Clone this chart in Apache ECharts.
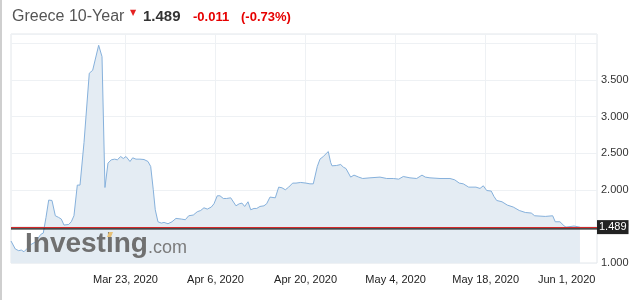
<!DOCTYPE html>
<html>
<head>
<meta charset="utf-8">
<script src="https://cdn.jsdelivr.net/npm/echarts@6/dist/echarts.min.js"></script>
<style>
html,body{margin:0;padding:0;background:#fff;}
#c{width:639px;height:300px;}
</style>
</head>
<body>
<div id="c"></div>
<script>
// Days relative to Mar 23, 2020
const days = [-17.80,-17.65,-17.13,-16.60,-16.20,-15.78,-15.27,-14.85,-14.54,-14.12,-13.60,-13.18,-12.78,-12.36,-11.94,-11.43,-10.91,-10.39,-9.98,-9.56,-9.25,-8.83,-8.43,-8.01,-7.49,-7.07,-6.45,-5.63,-5.10,-4.17,-3.65,-3.19,-2.72,-2.21,-1.68,-1.27,-0.75,-0.34,0.08,0.70,1.12,1.63,2.25,2.88,3.50,3.92,4.32,4.63,5.05,5.57,5.99,6.61,7.23,7.85,8.68,9.30,9.83,10.54,11.16,11.69,12.20,12.72,13.34,13.76,14.27,14.69,15.21,15.73,16.36,16.67,17.18,17.69,18.11,18.53,19.05,19.47,19.98,20.40,20.91,21.53,21.95,22.47,23.29,23.82,24.33,24.85,25.37,25.99,26.51,26.82,27.24,28.06,28.68,29.20,29.82,30.24,30.75,31.53,31.90,32.11,32.84,33.46,33.87,34.28,35.01,35.53,36.26,36.88,38.01,39.57,40.61,41.64,42.48,43.19,44.23,45.27,46.10,46.61,47.34,48.90,50.45,51.18,51.90,52.52,53.36,54.49,55.12,55.63,56.16,56.87,57.29,57.71,58.54,59.36,60.29,61.23,62.16,63.09,63.62,65.27,66.42,66.82,67.55,68.17,68.49,69.73,70.66];
const yields = [1.300,1.273,1.191,1.168,1.177,1.154,1.200,1.245,1.226,1.281,1.336,1.390,1.409,1.622,1.859,1.854,1.645,1.622,1.600,1.518,1.499,1.526,1.563,1.645,2.064,2.064,2.645,3.591,3.632,3.973,3.818,2.031,2.364,2.409,2.418,2.409,2.454,2.427,2.454,2.386,2.436,2.418,2.418,2.413,2.386,2.318,2.000,1.727,1.563,1.545,1.554,1.536,1.563,1.609,1.600,1.591,1.645,1.655,1.700,1.717,1.754,1.736,1.764,1.809,1.918,1.918,1.881,1.881,1.890,1.873,1.781,1.809,1.818,1.772,1.836,1.727,1.745,1.745,1.772,1.781,1.809,1.900,1.890,2.036,2.027,2.000,2.036,2.091,2.091,2.072,2.100,2.091,2.081,2.081,2.318,2.418,2.454,2.522,2.372,2.327,2.332,2.345,2.309,2.290,2.173,2.200,2.173,2.154,2.163,2.173,2.154,2.154,2.145,2.181,2.163,2.154,2.200,2.173,2.163,2.154,2.154,2.136,2.091,2.081,2.036,2.036,2.018,2.054,1.990,1.982,1.909,1.854,1.836,1.791,1.764,1.717,1.690,1.682,1.645,1.636,1.645,1.563,1.563,1.509,1.489,1.505,1.489];
const tickDays = [0, 14, 28, 42, 56, 70];
const tickLabels = ['Mar 23, 2020', 'Apr 6, 2020', 'Apr 20, 2020', 'May 4, 2020', 'May 18, 2020', 'Jun 1, 2020'];
const lastValue = 1.489;
const titleName = 'Greece 10-Year';
const changeAbs = '-0.011';
const changePct = '(-0.73%)';

const chart = echarts.init(document.getElementById('c'), null, {renderer: 'canvas'});
const FONT = 'Arial, "Liberation Sans", Helvetica, sans-serif';
chart.setOption({
  animation: false,
  backgroundColor: '#fff',
  textStyle: {fontFamily: FONT},
  grid: {left: 11, right: 42, top: 34, bottom: 37, show: true, borderColor: '#e2e6ea', borderWidth: 1, backgroundColor: 'transparent'},
  xAxis: {
    type: 'value', min: -17.80, max: 73.31,
    axisLine: {show: false},
    axisTick: {show: false, customValues: tickDays},
    splitLine: {show: true, lineStyle: {color: '#eef1f4', width: 1}},
    axisLabel: {
      customValues: tickDays, color: '#222', fontSize: 11, margin: 11, fontFamily: FONT,
      formatter: v => {
        const i = tickDays.indexOf(v);
        if (i < 0) return '';
        return i === tickDays.length - 1 ? '{last|' + tickLabels[i] + '}' : tickLabels[i];
      },
      rich: {last: {color: '#222', fontSize: 11, fontFamily: FONT, padding: [0, 18, 0, 0]}}
    }
  },
  yAxis: {
    type: 'value', position: 'right', min: 1, max: 4.127, interval: 0.5,
    axisLine: {show: false}, axisTick: {show: false},
    splitLine: {show: true, lineStyle: {color: '#eef1f4', width: 1}},
    axisLabel: {color: '#333', fontSize: 11, margin: 4, fontFamily: FONT,
      formatter: v => (v >= 4 ? '' : v.toFixed(3))}
  },
  graphic: [
    {type: 'rect', left: 0, top: 0, shape: {width: 2, height: 300}, style: {fill: '#cfcfcf'}, z: 10},
    {type: 'text', x: 12, y: 17, style: {text: titleName, fill: '#555', font: '16px ' + FONT, verticalAlign: 'middle'}},
    {type: 'text', x: 130, y: 13, style: {text: '▼', fill: '#e52222', font: '8px "DejaVu Sans"', verticalAlign: 'middle'}},
    {type: 'text', x: 143, y: 17, style: {text: String(lastValue), fill: '#333', font: 'bold 15px ' + FONT, verticalAlign: 'middle'}},
    {type: 'text', x: 193, y: 17.5, style: {text: changeAbs, fill: '#e60000', font: 'bold 13px ' + FONT, verticalAlign: 'middle'}},
    {type: 'text', x: 241, y: 17.5, style: {text: changePct, fill: '#e60000', font: 'bold 13px ' + FONT, verticalAlign: 'middle'}},
    {type: 'text', x: 25, y: 244, z: 5, style: {text: 'Investing', fill: '#707070', font: 'bold 28px ' + FONT, verticalAlign: 'middle'}},
    {type: 'polygon', z: 6, shape: {points: [[107,237],[109,232],[113,232],[111,237]]}, style: {fill: '#e8c278'}},
    {type: 'text', x: 148, y: 248, z: 5, style: {text: '.com', fill: '#7b7b7b', font: '18px ' + FONT, verticalAlign: 'middle'}}
  ],
  series: [{
    type: 'line',
    data: days.map((d, i) => [d, yields[i]]),
    symbol: 'none', smooth: false,
    lineStyle: {color: '#86b1dc', width: 1},
    areaStyle: {color: '#e4ecf3', opacity: 1, origin: 'start'},
    z: 2,
    markLine: {
      silent: true, symbol: 'none', animation: false,
      data: [{yAxis: lastValue}],
      lineStyle: {color: '#d42a2a', width: 1.2, type: 'solid', shadowColor: '#111111', shadowOffsetY: 1.4, shadowBlur: 0},
      label: {show: true, position: 'end', distance: 0, formatter: String(lastValue),
        backgroundColor: '#222', color: '#fff', fontSize: 11, fontFamily: FONT, padding: [2, 2, 1, 2]}
    }
  }]
});
</script>
</body>
</html>
